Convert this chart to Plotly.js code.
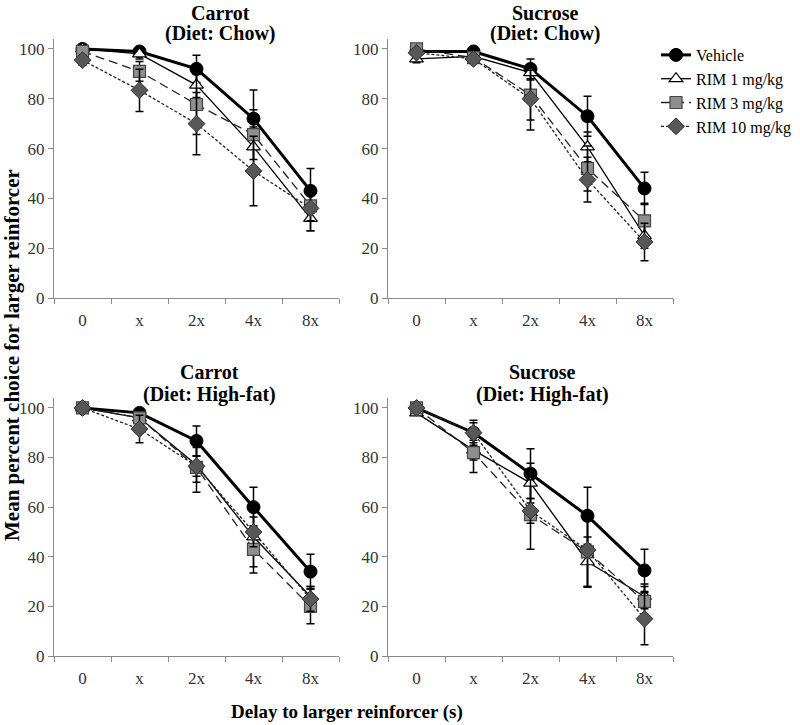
<!DOCTYPE html>
<html>
<head>
<meta charset="utf-8">
<script src="https://cdn.plot.ly/plotly-3.0.1.min.js"></script>
<style>
  body { margin: 0; background: #fff; }
  #chart { width: 800px; height: 725px; }
</style>
</head>
<body>
<div id="chart"></div>
<script>
// Delay categories on the x axis
const delays = ["0", "x", "2x", "4x", "8x"];
const groups = ["Vehicle", "RIM 1 mg/kg", "RIM 3 mg/kg", "RIM 10 mg/kg"];

// Carrot (Diet: Chow) - means and SEM
const carrotChowVehicle = [100, 99, 92, 72, 43];
const carrotChowRim1 = [100, 98, 85.5, 60.7, 32];
const carrotChowRim3 = [99, 91, 77.7, 65.6, 37];
const carrotChowRim10 = [95.5, 83.4, 70, 51, 36];
const carrotChowVehicleSE = [0.5, 1.5, 5.5, 11.5, 9];
const carrotChowRim1SE = [0.5, 2, 5, 8, 5];
const carrotChowRim3SE = [1.5, 4, 12, 10, 6];
const carrotChowRim10SE = [2, 8.5, 12.5, 14, 9];

// Sucrose (Diet: Chow)
const sucroseChowVehicle = [99, 99, 92, 73, 44];
const sucroseChowRim1 = [96, 97, 90.5, 60.7, 25];
const sucroseChowRim3 = [100, 96.5, 81.5, 52, 31];
const sucroseChowRim10 = [98.5, 96, 80, 47.5, 22.5];
const sucroseChowVehicleSE = [1, 1, 4, 8, 6.5];
const sucroseChowRim1SE = [1.5, 1.5, 3, 6, 5];
const sucroseChowRim3SE = [1, 1.5, 10, 9, 7];
const sucroseChowRim10SE = [1.5, 1.5, 12.5, 9, 7.5];

// Carrot (Diet: High-fat)
const carrotFatVehicle = [100, 98, 86.7, 60, 34];
const carrotFatRim1 = [100, 96, 77, 48, 24];
const carrotFatRim3 = [100, 96, 76, 43, 20];
const carrotFatRim10 = [100, 91.5, 76.5, 50, 23];
const carrotFatVehicleSE = [0.5, 1, 6, 8, 7];
const carrotFatRim1SE = [0.5, 2, 7, 12, 4];
const carrotFatRim3SE = [0.5, 2, 10, 9.5, 7];
const carrotFatRim10SE = [0.5, 5.5, 4, 6, 5];

// Sucrose (Diet: High-fat)
const sucroseFatVehicle = [100, 90, 73.5, 56.5, 34.5];
const sucroseFatRim1 = [98, 83, 69.7, 38, 24];
const sucroseFatRim3 = [100, 82, 57, 42, 22];
const sucroseFatRim10 = [100, 90, 58.5, 42.7, 15];
const sucroseFatVehicleSE = [0.5, 5, 10, 11.5, 8.5];
const sucroseFatRim1SE = [1, 4, 8, 10, 5];
const sucroseFatRim3SE = [0.5, 8, 14, 14, 6];
const sucroseFatRim10SE = [0.5, 4, 5, 15, 10.5];

const panels = [
  { xa: "x", ya: "y",
    means: [carrotChowVehicle, carrotChowRim1, carrotChowRim3, carrotChowRim10],
    ses: [carrotChowVehicleSE, carrotChowRim1SE, carrotChowRim3SE, carrotChowRim10SE] },
  { xa: "x2", ya: "y2",
    means: [sucroseChowVehicle, sucroseChowRim1, sucroseChowRim3, sucroseChowRim10],
    ses: [sucroseChowVehicleSE, sucroseChowRim1SE, sucroseChowRim3SE, sucroseChowRim10SE] },
  { xa: "x3", ya: "y3",
    means: [carrotFatVehicle, carrotFatRim1, carrotFatRim3, carrotFatRim10],
    ses: [carrotFatVehicleSE, carrotFatRim1SE, carrotFatRim3SE, carrotFatRim10SE] },
  { xa: "x4", ya: "y4",
    means: [sucroseFatVehicle, sucroseFatRim1, sucroseFatRim3, sucroseFatRim10],
    ses: [sucroseFatVehicleSE, sucroseFatRim1SE, sucroseFatRim3SE, sucroseFatRim10SE] }
];

// Look of each group
const styles = [
  { line: { color: "#000", width: 3, dash: "solid" },
    marker: { symbol: "circle", size: 13, color: "#000", line: { color: "#000", width: 1 } } },
  { line: { color: "#000", width: 1.3, dash: "solid" },
    marker: { symbol: "triangle-up", size: 12, color: "#fff", line: { color: "#000", width: 1.2 } } },
  { line: { color: "#222", width: 1.3, dash: "9px,5px" },
    marker: { symbol: "square", size: 12, color: "#8e8e8e", line: { color: "#444", width: 1.2 } } },
  { line: { color: "#222", width: 1.3, dash: "3px,2px" },
    marker: { symbol: "diamond", size: 13, color: "#575757", line: { color: "#333", width: 1 } } }
];

const traces = [];
panels.forEach((p, pi) => {
  p.means.forEach((m, gi) => {
    traces.push({
      x: delays,
      y: m,
      xaxis: p.xa,
      yaxis: p.ya,
      type: "scatter",
      mode: "lines+markers",
      name: groups[gi],
      showlegend: pi === 0,
      line: styles[gi].line,
      marker: styles[gi].marker,
      error_y: { type: "data", array: p.ses[gi], visible: true, color: "#000", thickness: 1.5, width: 4 },
      cliponaxis: false
    });
  });
});

const serif = "Liberation Serif";
const axisGray = "#8a8a8a";

function xAxis(domain, anchor) {
  return {
    domain: domain, anchor: anchor, type: "category",
    categoryorder: "array", categoryarray: delays, range: [-0.5, 4.5],
    showline: true, linecolor: axisGray, linewidth: 1,
    ticks: "outside", tickson: "boundaries", ticklen: 5, tickcolor: axisGray,
    ticklabelstandoff: 7,
    showgrid: false, zeroline: false,
    tickfont: { family: serif, size: 17, color: "#333" }, fixedrange: true
  };
}
function yAxis(domain, anchor) {
  return {
    domain: domain, anchor: anchor, range: [0, 104],
    tickvals: [0, 20, 40, 60, 80, 100],
    showline: true, linecolor: axisGray, linewidth: 1,
    ticks: "outside", ticklen: 5, tickcolor: axisGray,
    showgrid: false, zeroline: false,
    tickfont: { family: serif, size: 17, color: "#333" }, fixedrange: true
  };
}

const leftX = [54 / 800, 339 / 800];
const rightX = [388 / 800, 673 / 800];
const topY = [(725 - 298) / 725, (725 - 39) / 725];
const botY = [(725 - 656) / 725, (725 - 398) / 725];

// Panel titles, one annotation per line (pixel centres)
const titleLines = [
  ["Carrot", 220, 13], ["(Diet: Chow)", 220, 33],
  ["Sucrose", 545, 13], ["(Diet: Chow)", 545, 33],
  ["Carrot", 209, 372], ["(Diet: High-fat)", 209, 394],
  ["Sucrose", 542, 372], ["(Diet: High-fat)", 542, 394]
];
const annotations = titleLines.map(([t, px, py]) => ({
  text: "<b>" + t + "</b>", x: px / 800, y: 1 - py / 725,
  xref: "paper", yref: "paper", xanchor: "center", yanchor: "middle",
  showarrow: false, font: { family: serif, size: 20, color: "#000" }
}));

annotations.push({
  text: "<b>Delay to larger reinforcer (s)</b>", x: 347 / 800, y: 1 - 712 / 725,
  xref: "paper", yref: "paper", xanchor: "center", yanchor: "middle",
  showarrow: false, font: { family: serif, size: 19, color: "#000" }
});
annotations.push({
  text: "<b>Mean percent choice for larger reinforcer</b>", x: 12 / 800, y: 1 - 355 / 725,
  xref: "paper", yref: "paper", xanchor: "center", yanchor: "middle", textangle: -90,
  showarrow: false, font: { family: serif, size: 21, color: "#000" }
});

const layout = {
  width: 800, height: 725,
  margin: { l: 0, r: 0, t: 0, b: 0 },
  paper_bgcolor: "#fff", plot_bgcolor: "#fff",
  font: { family: serif, color: "#000" },
  xaxis: xAxis(leftX, "y"), yaxis: yAxis(topY, "x"),
  xaxis2: xAxis(rightX, "y2"), yaxis2: yAxis(topY, "x2"),
  xaxis3: xAxis(leftX, "y3"), yaxis3: yAxis(botY, "x3"),
  xaxis4: xAxis(rightX, "y4"), yaxis4: yAxis(botY, "x4"),
  showlegend: true,
  legend: {
    x: 656 / 800, y: 1 - 38 / 725, xanchor: "left", yanchor: "top",
    font: { family: serif, size: 16, color: "#000" },
    bgcolor: "rgba(0,0,0,0)", tracegroupgap: 0, itemwidth: 30
  },
  annotations: annotations
};

Plotly.newPlot("chart", traces, layout, { staticPlot: true });
</script>
</body>
</html>
